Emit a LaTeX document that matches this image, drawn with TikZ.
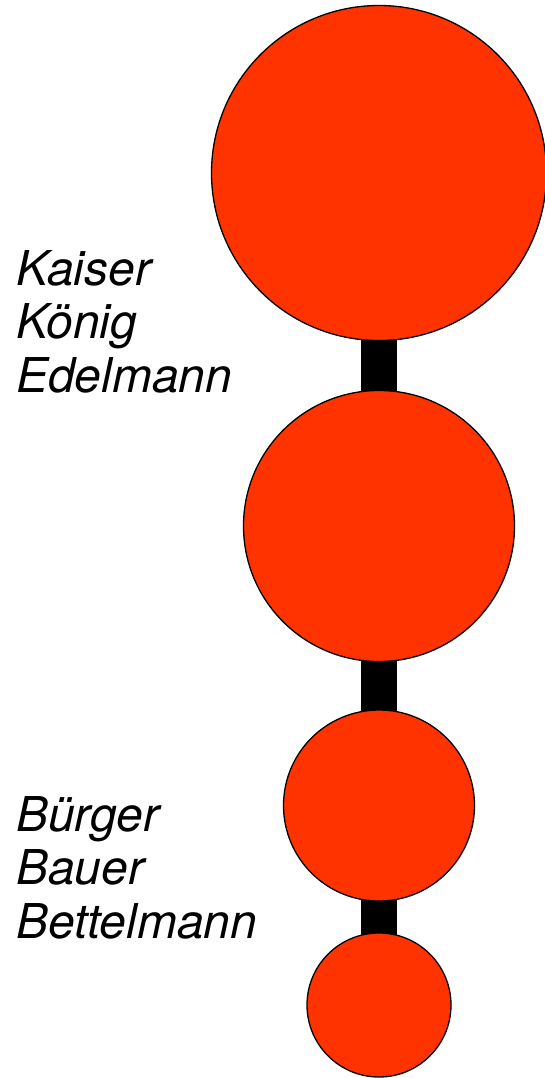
\documentclass[tikz,border=0pt]{standalone}
\usepackage{fontspec}
\setmainfont{TeX Gyre Heros}
\usetikzlibrary{positioning, backgrounds}
\definecolor{rankred}{RGB}{255,51,0}

\begin{document}
\begin{tikzpicture}[
  x=1pt, y=1pt,
  rank/.style={circle, draw=black, line width=1.3pt, fill=rankred,
               inner sep=0pt, outer sep=0pt},
  bar/.style={line width=36pt, black},
  estate/.style={align=left, anchor=base west, inner sep=0pt,
                 font=\fontsize{48}{53.5}\selectfont\itshape}
]
\useasboundingbox (0,0) rectangle (544,-1078);

\node[rank, minimum size=335pt] (kaiser) at (379,-173) {};
\node[rank, minimum size=271pt, below=50pt of kaiser] (adel) {};
\node[rank, minimum size=191pt, below=48.5pt of adel] (buerger) {};
\node[rank, minimum size=144pt, below=32pt of buerger] (bettler) {};

\begin{scope}[on background layer]
\draw[bar] (kaiser.center) -- (adel.center);
\draw[bar] (adel.center) -- (buerger.center);
\draw[bar] (buerger.center) -- (bettler.center);
\end{scope}

% base anchor sits on the last line
\node[estate] (oben) at (16,-392) {Kaiser\\König\\Edelmann};
\node[estate] (unten) at (16,-938) {Bürger\\Bauer\\Bettelmann};
\end{tikzpicture}
\end{document}
